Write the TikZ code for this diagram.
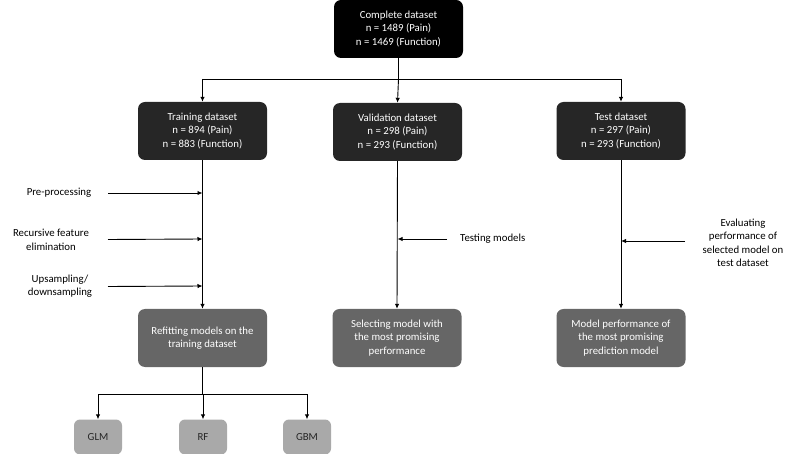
\documentclass[tikz,border=0pt]{standalone}
\usepackage{fontspec}
\setmainfont{Carlito}
\usetikzlibrary{arrows.meta}
\definecolor{darkbox}{HTML}{262626}
\definecolor{midbox}{HTML}{666666}
\definecolor{lightbox}{HTML}{A9A9A9}
\tikzset{
  txt/.style={font=\fontsize{10.8}{13.5}\selectfont},
  box/.style={txt, rounded corners=7pt, align=center, text=white, minimum width=129pt, minimum height=58pt, inner sep=2pt},
  topbox/.style={box, fill=black},
  databox/.style={box, fill=darkbox},
  resbox/.style={box, fill=midbox},
  modbox/.style={txt, rounded corners=6pt, align=center, text=black!85, fill=lightbox, minimum width=48pt, minimum height=35pt},
  lbl/.style={txt, align=center, inner sep=0pt},
  conn/.style={line width=0.9pt},
  arr/.style={conn, -{Latex[length=5pt,width=4.5pt]}}
}
\begin{document}
\begin{tikzpicture}[x=1pt,y=-1pt]
\useasboundingbox (0,0) rectangle (798,454);
% boxes
\node[topbox] (top) at (398.5,29) {Complete dataset\\n = 1489 (Pain)\\n = 1469 (Function)};
\node[databox] (train) at (202.5,131) {Training dataset\\n = 894 (Pain)\\n = 883 (Function)};
\node[databox] (valid) at (397.5,132) {Validation dataset\\n = 298 (Pain)\\n = 293 (Function)};
\node[databox] (test) at (621,131) {Test dataset\\n = 297 (Pain)\\n = 293 (Function)};
\node[resbox] (refit) at (202.5,338) {Refitting models on the\\training dataset};
\node[resbox] (select) at (397,338) {Selecting model with\\the most promising\\performance};
\node[resbox] (perf) at (621,338) {Model performance of\\the most promising\\prediction model};
\node[modbox] (glm) at (98,437) {GLM};
\node[modbox] (rf) at (203,437) {RF};
\node[modbox] (gbm) at (307,437) {GBM};
% split from complete dataset
\coordinate (jt) at (398.5,79);
\draw[conn] (top.south) -- (jt);
\draw[conn] (train.center |- jt) -- (test.center |- jt);
\draw[arr] (train.center |- jt) -- (train.north);
\draw[arr] (jt) -- (valid.north);
\draw[arr] (test.center |- jt) -- (test.north);
% main vertical flows
\draw[arr] (train.south) -- (refit.north);
\draw[arr] (valid.south) -- (select.north);
\draw[arr] (test.south) -- (perf.north);
% left-side steps
\node[lbl] (l1) at (59,193) {Pre-processing};
\node[lbl] (l2) at (51,240) {Recursive feature\\elimination};
\node[lbl] (l3) at (60,286) {Upsampling/\\downsampling};
\coordinate (s1) at (108,193);
\coordinate (s2) at (108,239.5);
\coordinate (s3) at (108,286.5);
\coordinate (e1) at (202.5,193);
\coordinate (e2) at (202.5,239);
\coordinate (e3) at (202.5,286);
\draw[arr] (s1) -- (e1);
\draw[arr] (s2) -- (e2);
\draw[arr] (s3) -- (e3);
% testing models
\node[lbl, anchor=west] (tm) at (460,239) {Testing models};
\coordinate (s4) at (447,239);
\coordinate (e4) at (397.5,239);
\draw[arr] (s4) -- (e4);
% evaluating
\node[lbl] (ev) at (743,243) {Evaluating\\performance of\\selected model on\\test dataset};
\coordinate (s5) at (685,241);
\coordinate (e5) at (621,241);
\draw[arr] (s5) -- (e5);
% model split
\coordinate (jb) at (202.5,394);
\draw[conn] (refit.south) -- (jb);
\draw[conn] (glm.center |- jb) -- (gbm.center |- jb);
\draw[arr] (glm.center |- jb) -- (glm.north);
\draw[arr] (rf.center |- jb) -- (rf.north);
\draw[arr] (gbm.center |- jb) -- (gbm.north);
\end{tikzpicture}
\end{document}
